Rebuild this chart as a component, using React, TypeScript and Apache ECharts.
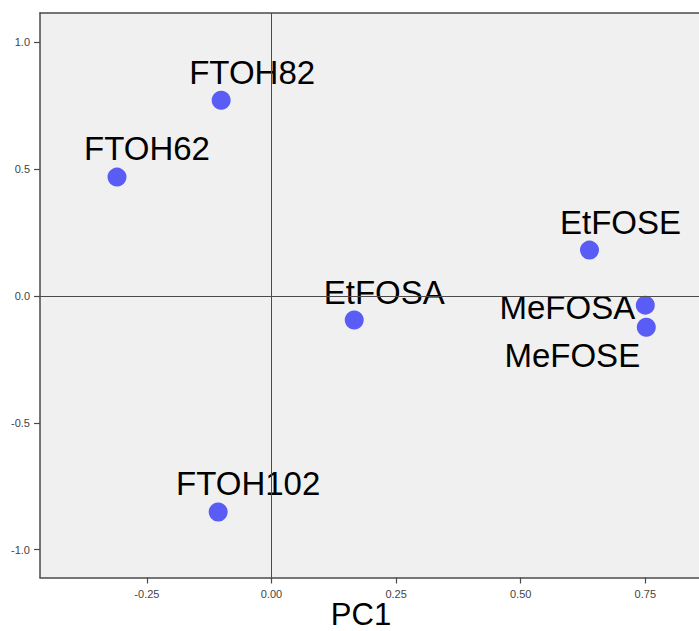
import React, { useEffect, useRef } from "react";
import * as echarts from "echarts";

// Component loadings on the first two principal components
const compounds = ["FTOH82", "FTOH62", "EtFOSE", "EtFOSA", "MeFOSA", "MeFOSE", "FTOH102"];
const pc1 = [-0.101, -0.31, 0.638, 0.166, 0.75, 0.752, -0.107];
const pc2 = [0.772, 0.469, 0.181, -0.095, -0.036, -0.123, -0.852];

const xTicks = [-0.25, 0, 0.25, 0.5, 0.75];
const yTicks = [-1.0, -0.5, 0.0, 0.5, 1.0];

// Where each point's name sits relative to its marker
const labelOffsets: Record<string, [number, number]> = {
  FTOH82: [31, -28],
  FTOH62: [30, -29],
  EtFOSE: [31, -28],
  EtFOSA: [30, -28],
  MeFOSA: [-78, 2],
  MeFOSE: [-74, 28],
  FTOH102: [30, -28],
};

const FONT = "'Liberation Sans', Arial, Helvetica, sans-serif";
const FRAME = "#4a4a4a";

export default function App() {
  const ref = useRef<HTMLDivElement>(null);

  useEffect(() => {
    if (!ref.current) return;
    const chart = echarts.init(ref.current, undefined, { renderer: "svg" });

    const points = compounds.map((name, i) => ({
      name,
      value: [pc1[i], pc2[i]],
      label: {
        show: true,
        position: "inside" as const,
        offset: labelOffsets[name],
        formatter: name,
        color: "#000",
        textBorderWidth: 0,
        fontSize: 33,
        fontFamily: FONT,
        align: "center" as const,
        verticalAlign: "middle" as const,
      },
    }));

    chart.setOption({
      animation: false,
      backgroundColor: "#ffffff",
      grid: {
        left: 40,
        top: 13,
        right: 0,
        height: 564.5,
        show: true,
        backgroundColor: "#f0f0f0",
        borderWidth: 0,
      },
      xAxis: [
        {
          type: "value",
          position: "bottom",
          min: -0.46449,
          max: 0.85774,
          splitLine: { show: false },
          axisLine: { show: true, onZero: false, lineStyle: { color: FRAME, width: 1.5 } },
          axisTick: {
            show: true,
            length: 6,
            inside: false,
            customValues: xTicks,
            lineStyle: { color: FRAME, width: 1.2 },
          },
          axisLabel: {
            customValues: xTicks,
            margin: 11,
            fontSize: 11,
            color: "#444",
            fontFamily: FONT,
            formatter: (v: number) => v.toFixed(2),
          },
        },
        {
          // top edge of the frame
          type: "value",
          position: "top",
          min: -0.46449,
          max: 0.85774,
          splitLine: { show: false },
          axisLine: { show: true, onZero: false, lineStyle: { color: FRAME, width: 1.5 } },
          axisTick: { show: false },
          axisLabel: { show: false },
        },
      ],
      yAxis: {
        type: "value",
        min: -1.11045,
        max: 1.11637,
        splitLine: { show: false },
        axisLine: { show: true, onZero: false, lineStyle: { color: FRAME, width: 1.5 } },
        axisTick: {
          show: true,
          length: 6,
          inside: false,
          customValues: yTicks,
          lineStyle: { color: FRAME, width: 1.2 },
        },
        axisLabel: {
          customValues: yTicks,
          margin: 10,
          fontSize: 11,
          color: "#444",
          fontFamily: FONT,
          formatter: (v: number) => v.toFixed(1),
        },
      },
      graphic: [
        {
          type: "text",
          x: 361,
          y: 614,
          style: {
            text: "PC1",
            fontSize: 31,
            fontFamily: FONT,
            fill: "#000",
            align: "center",
            verticalAlign: "middle",
          },
        },
      ],
      series: [
        {
          type: "scatter",
          symbol: "circle",
          symbolSize: 19,
          itemStyle: { color: "#5a5cf6", opacity: 1 },
          data: points,
          markLine: {
            silent: true,
            symbol: "none",
            label: { show: false },
            lineStyle: { color: FRAME, width: 1, type: "solid" },
            data: [{ xAxis: 0 }, { yAxis: 0 }],
          },
          z: 3,
        },
      ],
    });

    return () => chart.dispose();
  }, []);

  return (
    <div
      ref={ref}
      style={{ position: "fixed", left: 0, top: 0, width: 699, height: 631 }}
    />
  );
}
